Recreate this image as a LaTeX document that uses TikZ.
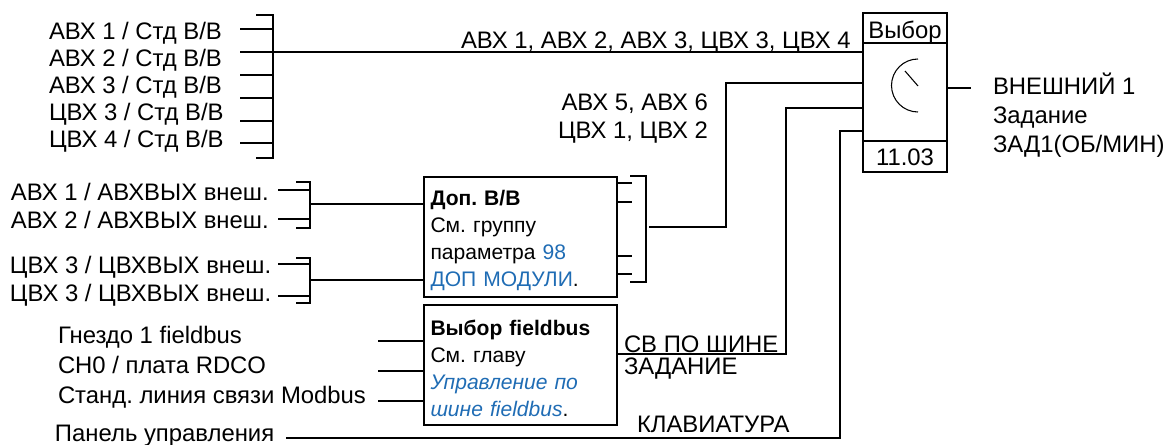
\documentclass[tikz,border=0pt]{standalone}
\usepackage{fontspec}
\setmainfont{Liberation Sans}
\usepackage{xcolor}
\usetikzlibrary{positioning}
\definecolor{linkblue}{HTML}{1F6CB4}
\AtBeginDocument{\frenchspacing}
\newcommand{\boxpad}{\rule{0pt}{16pt}}
\begin{document}
\begin{tikzpicture}[x=0.75pt,y=-0.75pt,line width=1.5pt,
  every node/.style={inner sep=0pt},
  lbl/.style={font=\fontsize{17.9}{20}\selectfont,text height=12.8pt,text depth=0pt,anchor=west},
  boxtxt/.style={draw,anchor=north west,minimum width=144.75pt,minimum height=90pt,align=left,text width=135pt,
    font=\fontsize{15.8}{20.25}\selectfont},
  selbox/.style={draw,outer sep=0pt,minimum width=63pt,font=\fontsize{17.9}{20}\selectfont}]
  \useasboundingbox (0,0) rectangle (1168,445);

  \node[lbl] (A1) at (48,31) {АВХ 1 / Стд В/В};
  \node[lbl,below=20.25pt of A1.west,anchor=west] (A2) {АВХ 2 / Стд В/В};
  \node[lbl,below=20.25pt of A2.west,anchor=west] (A3) {АВХ 3 / Стд В/В};
  \node[lbl,below=20.25pt of A3.west,anchor=west] (A4) {ЦВХ 3 / Стд В/В};
  \node[lbl,below=20.25pt of A4.west,anchor=west] (A5) {ЦВХ 4 / Стд В/В};

  \node[lbl] (B1) at (10,192) {АВХ 1 / АВХВЫХ внеш.};
  \node[lbl,below=21pt of B1.west,anchor=west] (B2) {АВХ 2 / АВХВЫХ внеш.};
  \node[lbl] (C1) at (9,265) {ЦВХ 3 / ЦВХВЫХ внеш.};
  \node[lbl,below=21pt of C1.west,anchor=west] (C2) {ЦВХ 3 / ЦВХВЫХ внеш.};

  \node[lbl] (F1) at (57,335) {Гнездо 1 fieldbus};
  \node[lbl,below=22.5pt of F1.west,anchor=west] (F2) {CH0 / плата RDCO};
  \node[lbl,below=22.5pt of F2.west,anchor=west] (F3) {Станд. линия связи Modbus};
  \node[lbl] (P) at (54,433) {Панель управления};

  \node[boxtxt] (dop) at (423,176) {\boxpad\textbf{Доп. В/В}\\См. группу\\параметра \textcolor{linkblue}{98}\\\textcolor{linkblue}{ДОП МОДУЛИ}.};
  \node[boxtxt] (fb) at (423,304) {\boxpad\textbf{Выбор fieldbus}\\См. главу\\\textcolor{linkblue}{\itshape Управление по}\\\textcolor{linkblue}{\itshape шине fieldbus}.};

  \node[selbox,minimum height=22.5pt,anchor=north west,text height=16pt,text depth=0pt] (sel) at (863,13) {Выбор};
  \node[selbox,minimum height=73.5pt,below=0pt of sel] (dial) {};
  \node[selbox,minimum height=23.25pt,below=0pt of dial,text height=13pt,text depth=0pt] (num) {11.03};

  \node[lbl] (bus) at (460,40) {АВХ 1, АВХ 2, АВХ 3, ЦВХ 3, ЦВХ 4};
  \node[lbl,anchor=east] (ext1) at (709,102) {АВХ 5, АВХ 6};
  \node[lbl,below=21pt of ext1.east,anchor=east] (ext2) {ЦВХ 1, ЦВХ 2};
  \node[lbl] (sv) at (623,344) {СВ ПО ШИНЕ};
  \node[lbl,below=16.5pt of sv.west,anchor=west] (zad) {ЗАДАНИЕ};
  \node[lbl] (kl) at (636,424) {КЛАВИАТУРА};
  \node[lbl] (out1) at (992,86) {ВНЕШНИЙ 1};
  \node[lbl,below=21.75pt of out1.west,anchor=west] (out2) {Задание};
  \node[lbl,below=21.75pt of out2.west,anchor=west] (out3) {ЗАД1(ОБ/МИН)};

  \coordinate (brkA) at (273,52.5);
  \coordinate (brkB) at (310,204.5);
  \coordinate (brkC) at (310,280);
  \coordinate (brkD) at (646,227);
  \coordinate (outEnd) at (971,88);

  \draw (256,15) -- (brkA |- 0,15) -- (brkA |- 0,158.5) -- (256,158.5);
  \foreach \y in {29.5,52.5,75,98,121,143}
    \draw (240,\y) -- (brkA |- 0,\y);
  \draw (brkA) -- (dial.west |- brkA);

  \draw (296,182) -- (brkB |- 0,182) -- (brkB |- 0,228) -- (296,228);
  \draw (278,190) -- (brkB |- 0,190);
  \draw (278,219) -- (brkB |- 0,219);
  \draw (brkB) -- (dop.west |- brkB);

  \draw (296,258) -- (brkC |- 0,258) -- (brkC |- 0,303) -- (296,303);
  \draw (278,264.5) -- (brkC |- 0,264.5);
  \draw (278,296) -- (brkC |- 0,296);
  \draw (brkC) -- (dop.west |- brkC);

  \foreach \y in {341,371,401}
    \draw (378,\y) -- (fb.west |- 0,\y);

  \foreach \y in {183,202,256,274}
    \draw (dop.east |- 0,\y) -- (632,\y);
  \draw (630,176) -- (brkD |- 0,176) -- (brkD |- 0,282) -- (630,282);
  \draw (649,227) -- (726,227) -- (726,83) -- (dial.west |- 0,83);

  \draw (fb.east |- 0,354) -- (786,354) -- (786,108) -- (dial.west |- 0,108);
  \draw (286,438) -- (840,438) -- (840,131) -- (dial.west |- 0,131);
  \draw (dial.east |- outEnd) -- (outEnd);

  \draw[line width=0.8pt] (918,59) arc[start angle=-90,end angle=-270,radius=26.5];
  \draw[line width=0.8pt] (905,71) -- (918,86);
\end{tikzpicture}
\end{document}
